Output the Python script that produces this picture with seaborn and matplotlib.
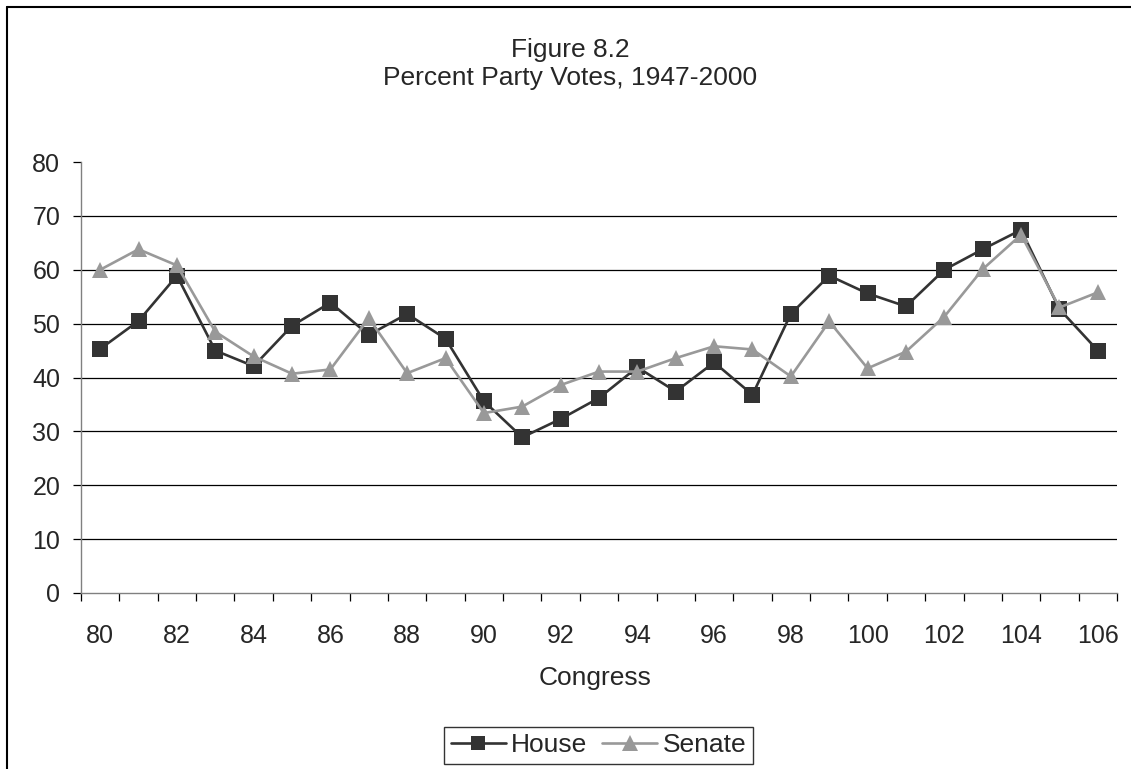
import numpy as np
import pandas as pd
import matplotlib
matplotlib.use("Agg")
import matplotlib.pyplot as plt
import seaborn as sns
from matplotlib.lines import Line2D

congress = list(range(80, 107))
house = [45.3, 50.5, 58.9, 45.0, 42.1, 49.6, 53.9, 47.9, 51.8, 47.2,
         35.6, 28.9, 32.3, 36.2, 41.9, 37.4, 42.8, 36.8, 51.8, 58.9,
         55.6, 53.2, 60.0, 63.8, 67.4, 52.7, 45.0]
senate = [60.0, 63.8, 60.8, 48.5, 43.9, 40.7, 41.5, 51.0, 40.8, 43.6,
          33.4, 34.6, 38.6, 41.1, 41.1, 43.6, 45.8, 45.2, 40.2, 50.4,
          41.7, 44.8, 51.3, 60.1, 66.5, 53.0, 55.8]
ytick_vals = list(range(0, 90, 10))
xtick_labels = [str(c) for c in congress[::2]]

sns.set_style("white")
plt.rcParams["font.family"] = ["Liberation Sans", "DejaVu Sans"]

W, H = 1131, 769
fig = plt.figure(figsize=(W / 100, H / 100), dpi=100)
ax = fig.add_axes([81 / W, (H - 593) / H, 1036 / W, 431 / H])

pos = np.arange(len(congress))
df = pd.DataFrame({"pos": pos, "House": house, "Senate": senate})

for y in ytick_vals[1:-1]:
    ax.axhline(y, color="black", lw=0.9, zorder=0)

sns.lineplot(data=df, x="pos", y="House", ax=ax, color="#333333", marker="s",
             markersize=11, markeredgewidth=0, linewidth=1.9, label="House", zorder=3)
sns.lineplot(data=df, x="pos", y="Senate", ax=ax, color="#999999", marker="^",
             markersize=12, markeredgewidth=0, linewidth=1.9, label="Senate", zorder=4)

ax.set_xlim(-0.5, len(congress) - 0.5)
ax.set_ylim(0, 80)
ax.set_yticks(ytick_vals)
ax.set_yticklabels([str(v) for v in ytick_vals], fontsize=18)
ax.tick_params(axis="y", direction="out", length=6, width=0.9, color="black", pad=9, left=True)

ax.set_xticks(np.arange(-0.5, len(congress), 1.0))
ax.set_xticklabels([])
ax.tick_params(axis="x", which="major", direction="out", length=6, width=0.9, color="black", bottom=True)
ax.set_xticks(pos[::2], minor=True)
ax.set_xticklabels(xtick_labels, minor=True, fontsize=18)
ax.tick_params(axis="x", which="minor", length=0, pad=22)

for s in ["top", "right"]:
    ax.spines[s].set_visible(False)
for s in ["left", "bottom"]:
    ax.spines[s].set_color("#808080")
    ax.spines[s].set_linewidth(1.0)

ax.set_xlabel("")
ax.set_ylabel("")
fig.text(595 / W, 1 - 685 / H, "Congress", ha="center", va="baseline", fontsize=19)

fig.text(570 / W, 1 - 57 / H, "Figure 8.2", ha="center", va="baseline", fontsize=19)
fig.text(570 / W, 1 - 85 / H, "Percent Party Votes, 1947-2000", ha="center", va="baseline", fontsize=19)

handles, labels = ax.get_legend_handles_labels()
ax.get_legend().remove()
leg = fig.legend(handles, labels, loc="center", bbox_to_anchor=(598.5 / W, 1 - 745.5 / H),
                 ncol=2, frameon=True, fancybox=False, edgecolor="black", fontsize=19,
                 handlelength=2.1, columnspacing=0.55, handletextpad=0.2, borderpad=0.25,
                 borderaxespad=0, markerscale=0.95)
leg.get_frame().set_linewidth(1.0)

fig.add_artist(Line2D([6.5 / W, 6.5 / W], [0, 1 - 6.5 / H], color="black", lw=1.5, transform=fig.transFigure))
fig.add_artist(Line2D([6.5 / W, 1], [1 - 6.5 / H, 1 - 6.5 / H], color="black", lw=1.5, transform=fig.transFigure))

fig.savefig("out.png", dpi=100)
